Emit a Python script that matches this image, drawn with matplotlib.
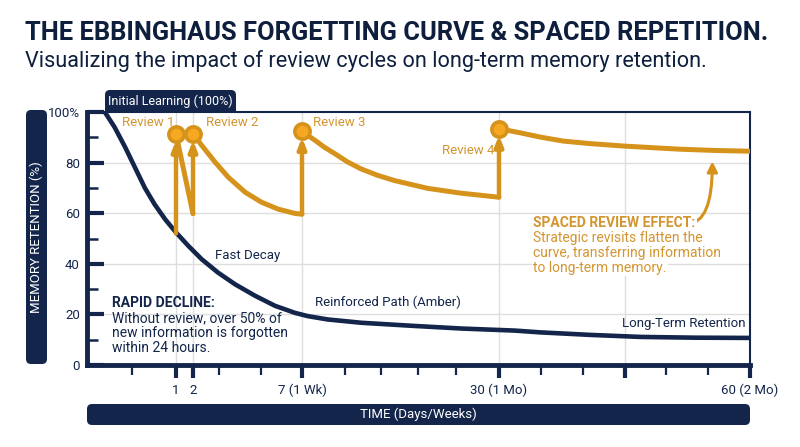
import matplotlib
matplotlib.use("Agg")
import matplotlib.pyplot as plt
import numpy as np
from matplotlib.patches import FancyBboxPatch

plt.rcParams["font.family"] = ["Roboto", "DejaVu Sans"]

NAVY = "#13254a"
AMBER = "#d6931c"
AMBER_TXT = "#d39530"
AMBER_FILL = "#f7a823"
GRID = "#dedede"

# time axis is stretched by hand in the original: day -> relative position
DAY_KNOTS = [0, 1, 2, 7, 30, 60]
POS_KNOTS = [0, 89, 106, 215, 412, 663]

MAJOR_DAYS = [1, 2, 7, 30, 45, 60]
MAJOR_LABELS = ["1", "2", "7 (1 Wk)", "30 (1 Mo)", "", "60 (2 Mo)"]
MINOR_DAYS = [0.5, 3.2, 5.1, 12, 16.2, 20.6, 25, 35, 40, 50, 55]

# no-review forgetting curve
BASE_DAYS = [0.2, 0.31, 0.43, 0.54, 0.65, 0.76, 0.88, 1.0, 1.71, 2.4, 3.15,
             3.93, 4.84, 5.76, 6.68, 7.7, 10.0, 13.9, 19.8, 25.7, 31.9, 34.9,
             40.9, 46.9, 53.4, 60]
BASE_VALS = [100, 94, 86, 78, 70, 63.5, 57.5, 52.4, 47.2, 41.8, 36.5,
             31.9, 27.4, 23.4, 20.6, 19.3, 18, 16.7, 15.5, 14.4, 13.6, 12.9,
             11.9, 11.1, 10.8, 10.7]

# reviews
REVIEW_DAYS = [1, 2, 7, 30]
REVIEW_PEAKS = [91.4, 91.4, 92.5, 93.4]
PRE_REVIEW = [52, 59.8, 59.6, 66.3]
REVIEW_LABELS = ["Review 1", "Review 2", "Review 3", "Review 4"]

# decay after each review
DECAY_DAYS = [
    [1, 2],
    [2, 2.4, 3.01, 3.62, 4.39, 5.15, 5.91, 6.68, 7],
    [7, 7.7, 8.52, 9.6, 10.85, 12.3, 13.9, 15.8, 17.8, 21.7, 25.6, 29.5, 30],
    [30, 32.5, 34.9, 37.7, 40.9, 45.1, 51.6, 55.8, 60],
]
DECAY_VALS = [
    [91.4, 59.8],
    [91.4, 86.8, 80.2, 74.2, 68.3, 64.3, 61.6, 59.9, 59.6],
    [92.5, 90.7, 88.8, 86.1, 83.5, 80.3, 77.5, 75.0, 72.9, 69.8, 67.9, 66.5, 66.3],
    [93.4, 91.8, 90.1, 88.5, 87.5, 86.5, 85.3, 84.8, 84.5],
]

Y_MAJOR = [0, 20, 40, 60, 80, 100]
Y_LABELS = ["0", "20", "40", "60", "80", "100%"]
Y_MINOR = [10, 30, 50, 70, 90]


def fwd(d):
    return np.interp(d, DAY_KNOTS, POS_KNOTS)


def inv(p):
    return np.interp(p, POS_KNOTS, DAY_KNOTS)


def fx(px):
    return px / 800


def fy(py):
    return 1 - py / 447


fig = plt.figure(figsize=(8, 4.47), dpi=100)
ax = fig.add_axes([fx(87), fy(365), fx(750) - fx(87), fy(112) - fy(365)])
ax.set_xscale("function", functions=(fwd, inv))
ax.set_xlim(0, 60)
ax.set_ylim(0, 100)

ax.set_xticks(MAJOR_DAYS, MAJOR_LABELS)
ax.set_xticks(MINOR_DAYS, minor=True)
ax.set_yticks(Y_MAJOR, Y_LABELS)
ax.set_yticks(Y_MINOR, minor=True)

for d in MAJOR_DAYS[:-1]:
    ax.axvline(d, color=GRID, lw=1, zorder=0)
for v in Y_MAJOR[1:-1]:
    ax.axhline(v, color=GRID, lw=1, zorder=0)

ax.tick_params(axis="x", which="major", direction="out", length=9.5, width=3,
               color=NAVY, labelcolor=NAVY, labelsize=9.5, pad=4)
ax.tick_params(axis="x", which="minor", direction="out", length=7.5, width=1.6,
               color=NAVY)
ax.tick_params(axis="y", which="major", direction="in", length=12.5, width=3,
               color=NAVY, labelcolor=NAVY, labelsize=9.5, pad=5)
ax.tick_params(axis="y", which="minor", direction="in", length=8, width=1.8,
               color=NAVY)
for s in ["left", "bottom"]:
    ax.spines[s].set_linewidth(3.5)
    ax.spines[s].set_color(NAVY)
for s in ["top", "right"]:
    ax.spines[s].set_linewidth(1.5)
    ax.spines[s].set_color(NAVY)

ax.plot(BASE_DAYS, BASE_VALS, color=NAVY, lw=3.3, solid_capstyle="round",
        solid_joinstyle="round", zorder=3)

for dd, vv in zip(DECAY_DAYS, DECAY_VALS):
    ax.plot(dd, vv, color=AMBER, lw=3.6, solid_capstyle="round",
            solid_joinstyle="round", zorder=4)

for d, lo, hi in zip(REVIEW_DAYS, PRE_REVIEW, REVIEW_PEAKS):
    ax.annotate("", xy=(d, hi - 2.6), xytext=(d, lo),
                arrowprops=dict(arrowstyle="-|>,head_length=0.5,head_width=0.2",
                                color=AMBER, lw=3.2, shrinkA=0, shrinkB=0,
                                mutation_scale=12), zorder=4)
ax.plot(REVIEW_DAYS, REVIEW_PEAKS, "o", ms=11, mfc=AMBER_FILL, mec=AMBER,
        mew=2.6, zorder=6)

# review labels
lab_pos = [(122, 123, "left"), (206, 123, "left"), (313, 123, "left"),
           (494, 151, "right")]
for (px, py, ha), t in zip(lab_pos, REVIEW_LABELS):
    fig.text(fx(px), fy(py), t, color=AMBER_TXT, fontsize=9.5, ha=ha, va="center")

# curve labels
fig.text(fx(215), fy(255), "Fast Decay", color=NAVY, fontsize=9.5, va="center")
fig.text(fx(315), fy(302), "Reinforced Path (Amber)", color=NAVY, fontsize=9.5,
         va="center")
fig.text(fx(745), fy(323), "Long-Term Retention", color=NAVY, fontsize=9.5,
         va="center", ha="right")

# callouts
rapid = ["Without review, over 50% of", "new information is forgotten",
         "within 24 hours."]
fig.text(fx(112), fy(303), "RAPID DECLINE:", color=NAVY, fontsize=10,
         fontweight="bold", va="center")
for i, line in enumerate(rapid):
    fig.text(fx(112), fy(318 + 15 * i), line, color=NAVY, fontsize=10, va="center")

spaced = ["Strategic revisits flatten the", "curve, transferring information",
          "to long-term memory."]
fig.text(fx(533), fy(223), "SPACED REVIEW EFFECT:", color=AMBER_TXT, fontsize=10,
         fontweight="bold", va="center",
         bbox=dict(fc="white", ec="none", pad=1))
for i, line in enumerate(spaced):
    fig.text(fx(533), fy(238 + 15 * i), line, color=AMBER_TXT, fontsize=10,
             va="center", bbox=dict(fc="white", ec="none", pad=1))

ax.annotate("", xy=(55.5, 80.5), xytext=(52.6, 56),
            arrowprops=dict(arrowstyle="-|>,head_length=0.5,head_width=0.25",
                            color=AMBER, lw=2.2, shrinkA=0, shrinkB=0,
                            mutation_scale=12,
                            connectionstyle="angle3,angleA=0,angleB=90"),
            zorder=4)

# title block
fig.text(fx(25), fy(40), "THE EBBINGHAUS FORGETTING CURVE & SPACED REPETITION.",
         color="#0d1f3c", fontsize=18.4, fontweight="bold", va="baseline")
fig.text(fx(25), fy(67),
         "Visualizing the impact of review cycles on long-term memory retention.",
         color="#0d1f3c", fontsize=15.6, va="baseline")

# label boxes (drawn in inches; 100 px per inch)
tr = fig.dpi_scale_trans
fig.add_artist(FancyBboxPatch((0.26, 0.83), 0.21, 2.54,
                              boxstyle="round,pad=0,rounding_size=0.05",
                              fc=NAVY, ec="none", transform=tr))
fig.text(fx(36.5), fy(237), "MEMORY RETENTION (%)", color="white", fontsize=9.5,
         rotation=90, ha="center", va="center")

fig.add_artist(FancyBboxPatch((0.87, 0.22), 6.63, 0.21,
                              boxstyle="round,pad=0,rounding_size=0.05",
                              fc=NAVY, ec="none", transform=tr))
fig.text(fx(418), fy(414.5), "TIME (Days/Weeks)", color="white", fontsize=9.5,
         ha="center", va="center")

init = FancyBboxPatch((1.05, 3.28), 1.31, 0.29,
                      boxstyle="round,pad=0,rounding_size=0.05",
                      fc=NAVY, ec="none", transform=tr, zorder=-1)
fig.add_artist(init)
fig.text(fx(170.5), fy(101), "Initial Learning (100%)", color="white",
         fontsize=9.0, ha="center", va="center")

fig.savefig("out.png", dpi=100, facecolor="white")
